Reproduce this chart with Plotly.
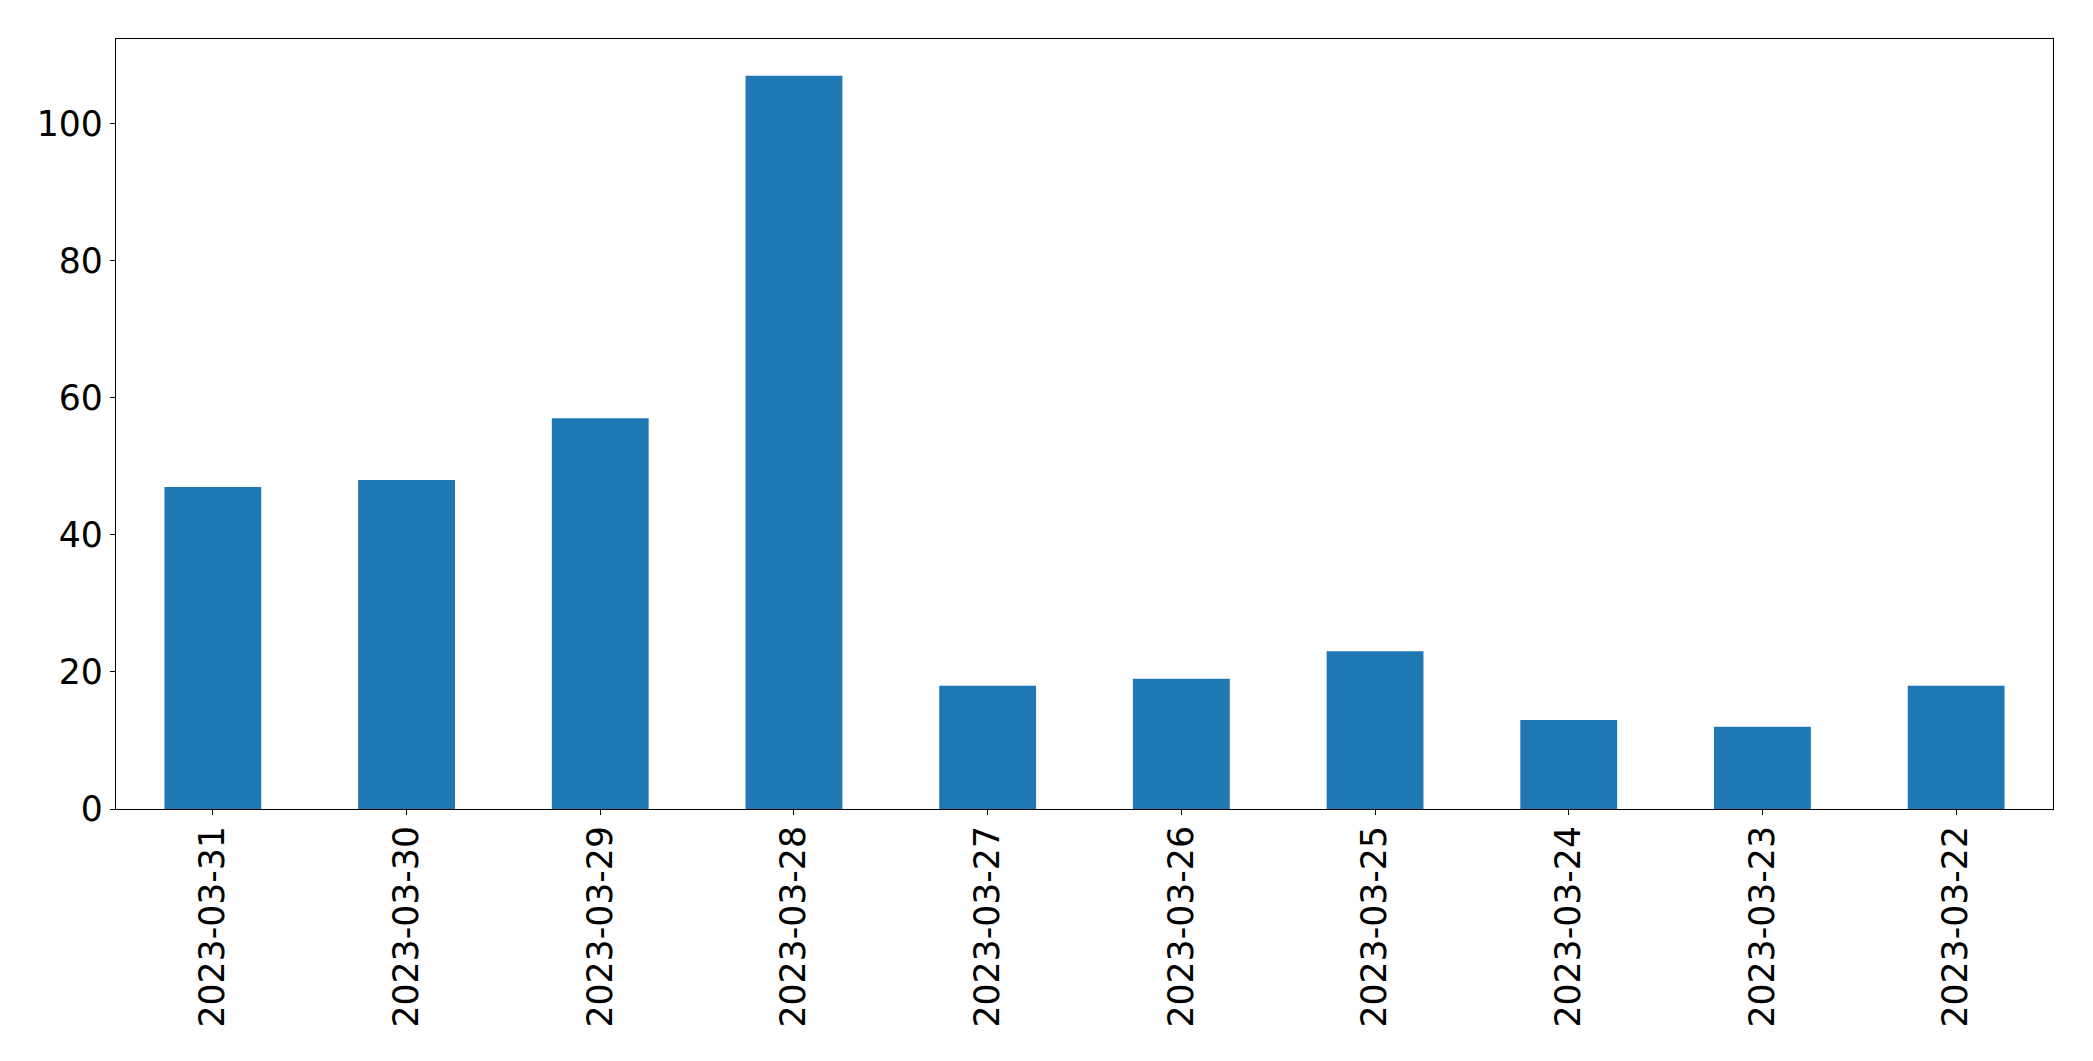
import plotly.graph_objects as go

dates = ["2023-03-31", "2023-03-30", "2023-03-29", "2023-03-28", "2023-03-27",
         "2023-03-26", "2023-03-25", "2023-03-24", "2023-03-23", "2023-03-22"]
counts = [47, 48, 57, 107, 18, 19, 23, 13, 12, 18]
y_ticks = [0, 20, 40, 60, 80, 100]

fig = go.Figure(go.Bar(x=dates, y=counts, marker=dict(color="#1f77b4", line=dict(width=0))))

font = dict(family="DejaVu Sans", size=34.7, color="black")
fig.update_layout(
    width=2085, height=1053,
    margin=dict(l=108, r=40, t=31, b=252),
    paper_bgcolor="white", plot_bgcolor="white",
    bargap=0.5, showlegend=False,
    font=font,
)
fig.update_xaxes(
    type="category", range=[-0.5, 9.5], tickangle=-90,
    ticks="outside", ticklen=5, tickwidth=1.3, tickcolor="black",
    showline=True, linecolor="black", linewidth=1.3, mirror=True,
    showgrid=False, tickfont=font, ticklabelstandoff=-3,
)
fig.update_yaxes(
    range=[0, 112.35], tickvals=y_ticks, ticktext=[str(v) for v in y_ticks],
    ticks="outside", ticklen=5, tickwidth=1.3, tickcolor="black",
    showline=True, linecolor="black", linewidth=1.3, mirror=True,
    showgrid=False, zeroline=False, tickfont=font, ticklabelstandoff=0,
)
fig.write_html("out.html")
